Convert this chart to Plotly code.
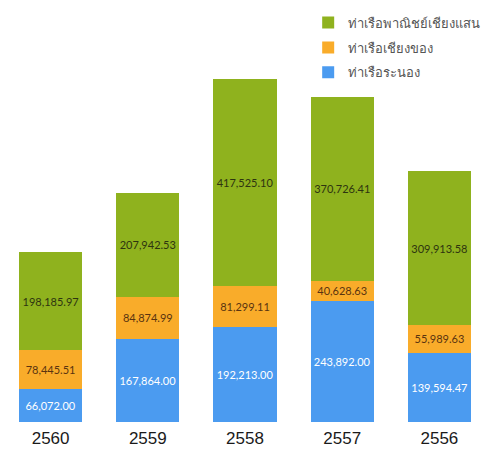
import plotly.graph_objects as go

years = ["2560", "2559", "2558", "2557", "2556"]
ranong = [66072.00, 167864.00, 192213.00, 243892.00, 139594.47]
chiang_khong = [78445.51, 84874.99, 81299.11, 40628.63, 55989.63]
chiang_saen = [198185.97, 207942.53, 417525.10, 370726.41, 309913.58]

names = ["ท่าเรือระนอง", "ท่าเรือเชียงของ", "ท่าเรือพาณิชย์เชียงแสน"]
colors = ["#4b9bf0", "#f9ac2a", "#8fb21e"]
text_colors = ["#ffffff", "#5a3410", "#2e3410"]
series = [ranong, chiang_khong, chiang_saen]

label_font = "Lato, 'DejaVu Sans', sans-serif"

fig = go.Figure()
for i, (name, vals, col, tcol) in enumerate(zip(names, series, colors, text_colors)):
    fig.add_trace(go.Bar(
        x=years, y=vals, name=name, legendgroup=f"g{i}",
        legendrank=1000 - i,
        marker=dict(color=col, line=dict(width=0)),
        text=[f"{v:,.2f}" for v in vals],
        textposition="inside", insidetextanchor="middle",
        textangle=0,
        textfont=dict(family=label_font, size=11, color=tcol),
        constraintext="none",
    ))

fig.update_layout(
    barmode="stack",
    bargap=0.35,
    width=494, height=455,
    margin=dict(l=2, r=6, t=0, b=33),
    paper_bgcolor="white", plot_bgcolor="white",
    showlegend=True,
    legend=dict(
        traceorder="grouped",
        x=0.63, y=0.982, xanchor="left", yanchor="top",
        font=dict(family="'Noto Sans', sans-serif", size=13, color="#555555"),
        itemwidth=30, tracegroupgap=5,
        bgcolor="rgba(0,0,0,0)",
    ),
    xaxis=dict(
        showgrid=False, zeroline=False, showline=False, ticks="",
        ticklabelstandoff=4,
        tickfont=dict(family="'Liberation Sans', Arial, sans-serif", size=17, color="#1a1a1a"),
    ),
    yaxis=dict(
        range=[0, 850200], visible=False, showgrid=False, zeroline=False,
    ),
)

fig.write_html("out.html")
